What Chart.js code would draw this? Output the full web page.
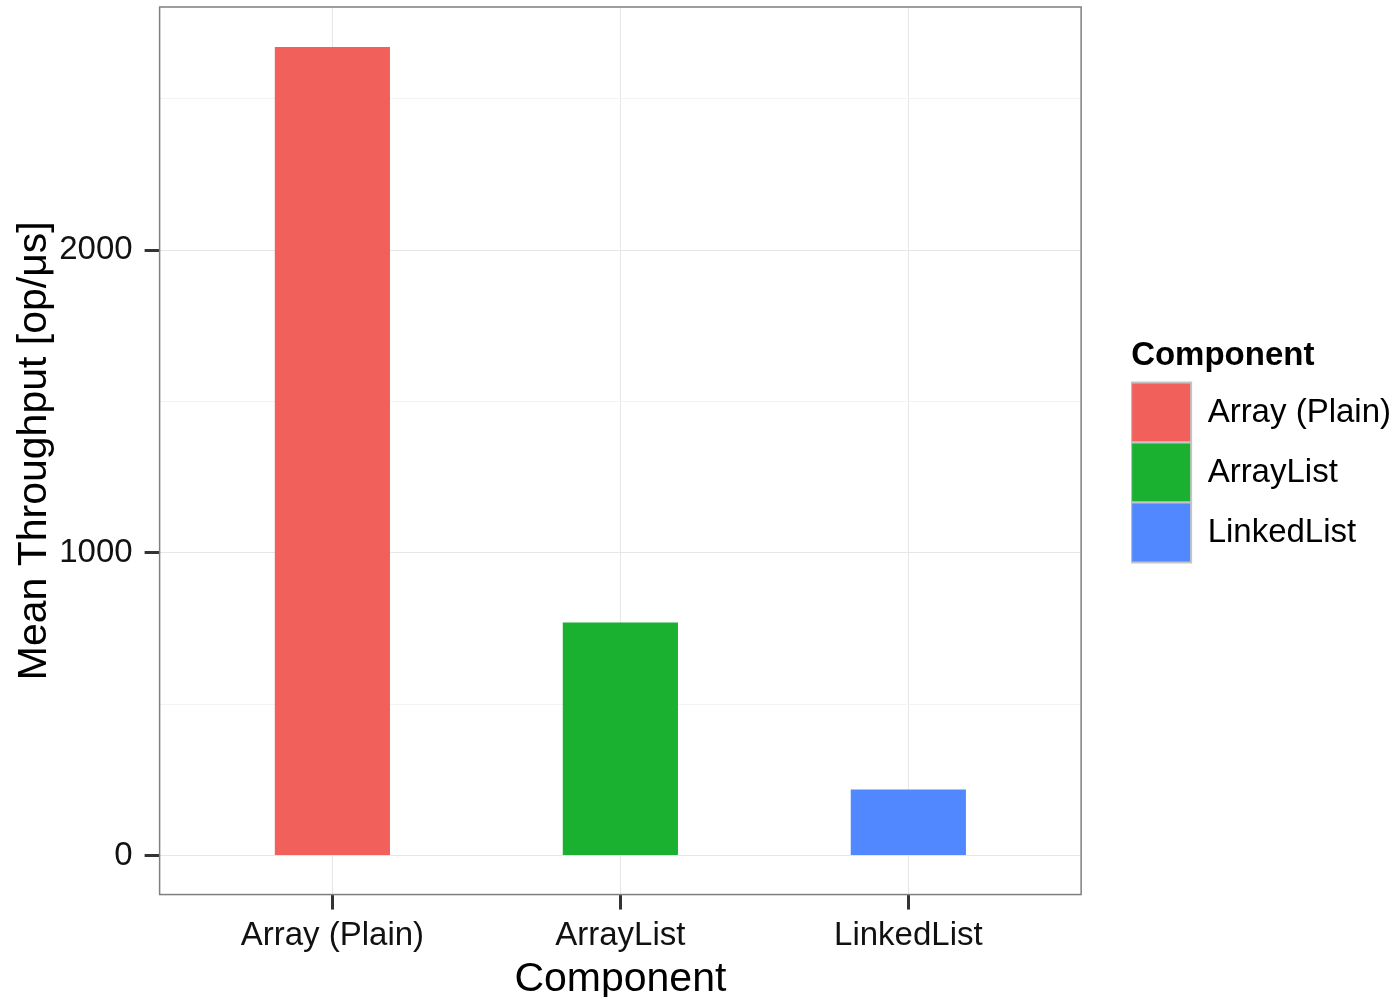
<!DOCTYPE html>
<html lang="en">
<head>
<meta charset="UTF-8">
<title>Mean Throughput by Component</title>
<script src="https://cdn.jsdelivr.net/npm/chart.js"></script>
<style>
  html, body { margin: 0; padding: 0; background: #fff; }
</style>
</head>
<body>
<canvas id="myChart" width="1391" height="997"></canvas>

<script>
  // categories and values
  const components = ['Array (Plain)', 'ArrayList', 'LinkedList'];
  const throughput = [2671, 770, 218];
  const barColors = ['#F2605B', '#1AB030', '#5188FF'];
  // y grid: labelled (major) values and the unlabelled minor lines
  const yTickLabels = [0, 1000, 2000];
  const yGridValues = [0, 500, 1000, 1500, 2000, 2500];

  const FONT = "'Liberation Sans', Arial, sans-serif";
  const isMajor = v => yTickLabels.includes(v);

  // grey frame around the panel
  const panelBorder = {
    id: 'panelBorder',
    afterDraw(chart) {
      const { ctx, chartArea: a } = chart;
      ctx.save();
      ctx.strokeStyle = '#7f7f7f';
      ctx.lineWidth = 1.5;
      ctx.strokeRect(a.left, a.top, a.right - a.left, a.bottom - a.top);
      ctx.restore();
    }
  };

  const ctx = document.getElementById('myChart');

  new Chart(ctx, {
    type: 'bar',
    data: {
      datasets: [{
        label: 'Component',
        data: throughput.map((v, i) => ({ x: i, y: v })),
        backgroundColor: barColors,
        borderWidth: 0,
        barPercentage: 1,
        categoryPercentage: 0.4
      }]
    },
    options: {
      responsive: false,
      animation: false,
      layout: { padding: { top: 7, left: 1, right: -10, bottom: 0 } },
      plugins: {
        tooltip: { enabled: false },
        legend: {
          position: 'right',
          fullSize: false,
          maxWidth: 320,
          title: {
            display: true,
            text: 'Component',
            position: 'start',
            color: '#000',
            font: { family: FONT, size: 33, weight: 'bold' },
            padding: { top: 0, bottom: 4 }
          },
          labels: {
            boxWidth: 60,
            boxHeight: 60,
            padding: 0,
            color: '#000',
            font: { family: FONT, size: 33 },
            generateLabels: () => components.map((c, i) => ({
              text: c,
              fillStyle: barColors[i],
              strokeStyle: '#c4c4c4',
              lineWidth: 2,
              fontColor: '#000',
              index: i,
              datasetIndex: 0
            }))
          }
        }
      },
      scales: {
        x: {
          type: 'linear',
          min: -0.6,
          max: 2.6,
          offset: false,
          border: { display: false },
          grid: {
            offset: false,
            color: '#e6e6e6',
            lineWidth: 1,
            tickColor: '#333',
            tickWidth: 3,
            tickLength: 15
          },
          ticks: {
            autoSkip: false,
            maxRotation: 0,
            padding: 6.5,
            color: '#111',
            font: { family: FONT, size: 33 },
            callback: v => components[v] ?? ''
          },
          afterBuildTicks: s => { s.ticks = components.map((c, i) => ({ value: i })); },
          title: {
            display: true,
            text: 'Component',
            color: '#000',
            font: { family: FONT, size: 41, lineHeight: 0.85 },
            padding: { top: 0, bottom: 0 }
          },
          afterFit: s => { s.paddingLeft = 0; s.paddingRight = 0; }
        },
        y: {
          min: -129,
          max: 2803,
          border: { display: false },
          grid: {
            color: c => (c.tick && isMajor(c.tick.value)) ? '#e6e6e6' : '#f3f3f3',
            lineWidth: 1,
            tickColor: c => (c.tick && isMajor(c.tick.value)) ? '#333' : 'rgba(0,0,0,0)',
            tickWidth: 3,
            tickLength: 15
          },
          ticks: {
            padding: 12,
            color: '#111',
            font: { family: FONT, size: 33 },
            callback: v => isMajor(v) ? String(v) : ''
          },
          afterBuildTicks: s => { s.ticks = yGridValues.map(v => ({ value: v })); },
          title: {
            display: true,
            text: 'Mean Throughput [op/μs]',
            color: '#000',
            font: { family: FONT, size: 41, lineHeight: 1.2 },
            padding: { top: 9, bottom: 0 }
          },
          // chart.js reserves the tick padding twice; give the extra back
          afterFit: s => { s.paddingTop = 0; s.paddingBottom = 0; s.width -= 12; }
        },
        // empty axis, only keeps the gap between panel and legend
        y2: {
          position: 'right',
          grid: { display: false, drawOnChartArea: false },
          border: { display: false },
          ticks: { display: false },
          afterFit: s => { s.width = 50; }
        }
      }
    },
    plugins: [panelBorder]
  });
</script>
</body>
</html>
